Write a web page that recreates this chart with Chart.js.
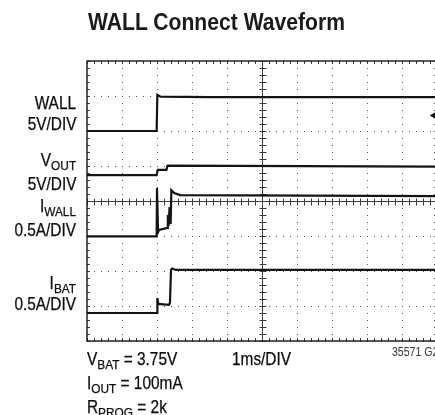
<!DOCTYPE html>
<html lang="en">
<head>
  <meta charset="UTF-8">
  <title>WALL Connect Waveform</title>
  <script src="https://cdn.jsdelivr.net/npm/chart.js"></script>
  <style>
    html, body { margin: 0; padding: 0; background: #fff; overflow: hidden; }
    #wrap { position: relative; width: 445px; height: 415px; }
    #scope { position: absolute; left: 0; top: 0; }
    .t {
      position: absolute; white-space: nowrap; color: #0d0d0d;
      font-family: "Liberation Sans", Arial, sans-serif; font-size: 17.5px; line-height: 1.15;
      -webkit-text-stroke: 0.25px #0d0d0d;
      transform: scaleX(0.88); transform-origin: left top;
    }
    .r { transform-origin: right top; text-align: right; }
    .s { position: relative; top: 4px; font-size: 0.77em; }
    #title { font-size: 24px; font-weight: bold; -webkit-text-stroke: 0; color: #1a1a1a; }
    #code { font-size: 12px; color: #333; -webkit-text-stroke: 0; }
    #gnd { font-size: 10px; }
  </style>
</head>
<body>
  <div id="wrap">
    <canvas id="scope" width="445" height="415"></canvas>
    <div class="t" id="title" style="left:88px; top:8px;">WALL Connect Waveform</div>

    <div class="t r" style="right:369px; top:93.4px;">WALL</div>
    <div class="t r" style="right:369px; top:113.9px;">5V/DIV</div>
    <div class="t r" style="right:369px; top:150.4px;">V<span class="s">OUT</span></div>
    <div class="t r" style="right:369px; top:173.9px;">5V/DIV</div>
    <div class="t r" style="right:369px; top:196.4px;">I<span class="s">WALL</span></div>
    <div class="t r" style="right:369px; top:219.9px;">0.5A/DIV</div>
    <div class="t r" style="right:369px; top:273.4px;">I<span class="s">BAT</span></div>
    <div class="t r" style="right:369px; top:293.9px;">0.5A/DIV</div>

    <div class="t" style="left:87px; top:348.9px;">V<span class="s">BAT</span> = 3.75V</div>
    <div class="t" style="left:87px; top:372.9px;">I<span class="s">OUT</span> = 100mA</div>
    <div class="t" style="left:87px; top:396.9px;">R<span class="s">PROG</span> = 2k</div>
    <div class="t" style="left:232px; top:348.9px;">1ms/DIV</div>
    <div class="t" id="code" style="left:392px; top:346px;">35571 G29</div>
    <div class="t" id="gnd" style="left:430px; top:109px;">&#9664;</div>
  </div>
  <script>
    // screen divisions: 10 across (1ms/DIV), 8 down
    const divX = 10;
    const divY = 8;

    // traces (time in div, level in div from bottom)
    const wallT = [0, 1.99, 2.01, 2.1, 3.5, 10];
    const wallV = [6.0, 6.0, 7.03, 6.98, 6.97, 6.97];

    const voutT = [0, 1.99, 2.02, 2.27, 2.3, 10];
    const voutV = [4.74, 4.74, 4.89, 4.89, 5.01, 4.98];

    const iwallT = [0, 1.99, 2.0, 2.03, 2.06, 2.29, 2.31, 2.33, 2.36, 2.39, 2.41, 2.49, 2.66, 10];
    const iwallV = [2.99, 2.99, 4.37, 3.11, 3.17, 3.23, 3.6, 3.29, 3.83, 3.34, 4.31, 4.23, 4.17, 4.14];

    const ibatT = [0, 2.0, 2.01, 2.04, 2.34, 2.37, 2.4, 2.43, 2.54, 10];
    const ibatV = [0.8, 0.8, 1.23, 1.06, 1.03, 1.09, 2.03, 2.07, 2.03, 2.03];

    function pts(t, v) { return t.map((x, i) => ({ x: x, y: v[i] })); }

    function trace(label, t, v) {
      return {
        label: label,
        data: pts(t, v),
        borderColor: '#141414',
        borderWidth: 2.2,
        pointRadius: 0,
        tension: 0,
        fill: false
      };
    }

    // solid frame, centre cross and the small 1/5 div ticks
    const graticule = {
      id: 'graticule',
      beforeDatasetsDraw(chart) {
        const { ctx, chartArea: a, scales: { x, y } } = chart;
        const cx = Math.round(x.getPixelForValue(divX / 2)) + 0.5;
        const cy = Math.round(y.getPixelForValue(divY / 2)) + 0.5;
        ctx.save();
        ctx.strokeStyle = '#3a3a3a';
        ctx.lineWidth = 1;
        ctx.beginPath();
        ctx.moveTo(cx, a.top); ctx.lineTo(cx, a.bottom);
        ctx.moveTo(a.left, cy); ctx.lineTo(a.right, cy);
        for (let k = 0; k <= divX * 5; k++) {
          const px = Math.round(x.getPixelForValue(k / 5)) + 0.5;
          ctx.moveTo(px, a.top); ctx.lineTo(px, a.top + 3);
          ctx.moveTo(px, a.bottom); ctx.lineTo(px, a.bottom - 3);
          ctx.moveTo(px, cy - 3); ctx.lineTo(px, cy + 4);
        }
        for (let k = 0; k <= divY * 5; k++) {
          const py = Math.round(y.getPixelForValue(k / 5)) + 0.5;
          ctx.moveTo(a.left, py); ctx.lineTo(a.left + 3, py);
          ctx.moveTo(a.right, py); ctx.lineTo(a.right - 3, py);
          ctx.moveTo(cx - 3, py); ctx.lineTo(cx + 4, py);
        }
        ctx.stroke();
        ctx.strokeStyle = '#222';
        ctx.lineWidth = 1.5;
        ctx.strokeRect(a.left, a.top, a.right - a.left, a.bottom - a.top);
        ctx.restore();
      }
    };

    new Chart(document.getElementById('scope'), {
      type: 'line',
      data: {
        datasets: [
          trace('WALL', wallT, wallV),
          trace('VOUT', voutT, voutV),
          trace('IWALL', iwallT, iwallV),
          trace('IBAT', ibatT, ibatV)
        ]
      },
      options: {
        responsive: false,
        animation: false,
        devicePixelRatio: 1,
        layout: { padding: { left: 87, top: 61, right: 8, bottom: 74 } },
        plugins: { legend: { display: false }, tooltip: { enabled: false } },
        scales: {
          x: {
            type: 'linear', min: 0, max: divX,
            ticks: { display: false, stepSize: 1 },
            grid: { color: '#555', lineWidth: 1, drawTicks: false },
            border: { display: false, dash: [1, 6] }
          },
          y: {
            type: 'linear', min: 0, max: divY,
            ticks: { display: false, stepSize: 1 },
            grid: { color: '#555', lineWidth: 1, drawTicks: false },
            border: { display: false, dash: [1, 6] }
          }
        }
      },
      plugins: [graticule]
    });
  </script>
</body>
</html>
